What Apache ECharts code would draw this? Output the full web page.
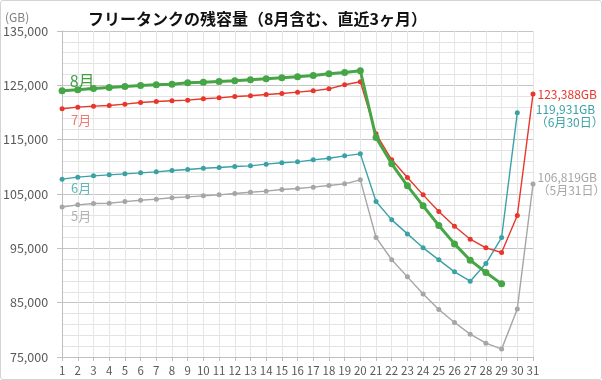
<!DOCTYPE html>
<html><head><meta charset="utf-8">
<script src="https://cdn.jsdelivr.net/npm/echarts@6/dist/echarts.min.js"></script>
<style>
html,body{margin:0;padding:0;background:#fff;}
#wrap{position:relative;width:602px;height:380px;}
#chart{position:absolute;left:0;top:0;width:602px;height:380px;}
#frame{position:absolute;left:0;top:0;width:602px;height:380px;box-sizing:border-box;border:1px solid #d4d4d4;border-radius:3px;pointer-events:none;}
</style></head>
<body><div id="wrap"><div id="chart"></div><div id="frame"></div></div>
<script>
const days = ['1','2','3','4','5','6','7','8','9','10','11','12','13','14','15','16','17','18','19','20','21','22','23','24','25','26','27','28','29','30','31'];
const may = [102600,103000,103250,103300,103600,103850,104050,104300,104480,104660,104840,105090,105330,105520,105830,106010,106260,106560,106870,107600,97000,92900,89750,86600,83750,81350,79200,77550,76450,83850,106819];
const jun = [107730,108100,108340,108520,108710,108890,109080,109320,109510,109750,109880,110060,110180,110490,110740,110920,111290,111590,112020,112390,103620,100240,97660,95090,92880,90670,88950,92200,96990,119931,null];
const jul = [120680,120980,121170,121290,121540,121840,122030,122150,122270,122520,122700,122950,123070,123320,123500,123750,123990,124360,125100,125650,116080,111290,108030,104840,101780,99080,96680,95090,94230,101040,123388];
const aug = [123990,124180,124420,124600,124790,124970,125100,125220,125460,125590,125710,125830,126020,126200,126380,126570,126810,127120,127370,127680,115390,110550,106500,102820,99200,95820,92820,90550,88460,null,null];
const seriesNames = ['5月','6月','7月','8月'];
const titleText = 'フリータンクの残容量（8月含む、直近3ヶ月）';
const unitText = '(GB)';
const endNotes = {
  may: '106,819GB\n（5月31日）',
  jun: '119,931GB\n（6月30日）',
  jul: '123,388GB'
};
const yMin = 75000, yMax = 135000, yStep = 10000;

const FONT = '"Noto Sans CJK JP", "Noto Sans", sans-serif';

function decorate(arr, firstLabel, lastIdx, lastLabel) {
  return arr.map((v, i) => {
    if (i === 0) return {value: v, label: firstLabel};
    if (i === lastIdx && lastLabel) return {value: v, label: lastLabel};
    return v;
  });
}

function mkSeries(name, arr, color, width, sym, firstLbl, lastIdx, lastLbl, z) {
  return {
    name: name, type: 'line', data: decorate(arr, firstLbl, lastIdx, lastLbl),
    symbol: 'circle', symbolSize: sym, showSymbol: true,
    lineStyle: {color: color, width: width},
    itemStyle: {color: color},
    label: {show: false},
    connectNulls: false, z: z, animation: false
  };
}

const chart = echarts.init(document.getElementById('chart'), null, {renderer: 'canvas'});
chart.setOption({
  animation: false,
  backgroundColor: '#fff',
  textStyle: {fontFamily: FONT},
  grid: {left: 58, right: 69, top: 31, bottom: 23, containLabel: false},
  xAxis: {
    type: 'category', data: days, boundaryGap: false,
    axisLine: {lineStyle: {color: '#bfbfbf', width: 1}},
    axisTick: {show: true, length: 4, lineStyle: {color: '#bfbfbf'}},
    axisLabel: {color: '#595959', fontSize: 11.5, margin: 8, fontFamily: FONT, interval: 0},
    splitLine: {show: true, lineStyle: {color: '#e6e6e6', width: 1}}
  },
  yAxis: {
    type: 'value', min: yMin, max: yMax, interval: yStep,
    axisLine: {show: true, lineStyle: {color: '#bfbfbf'}},
    axisTick: {show: true, length: 5, lineStyle: {color: '#bfbfbf'}},
    axisLabel: {color: '#595959', fontSize: 12.5, margin: 14, fontFamily: FONT,
      formatter: v => v.toLocaleString('en-US')},
    splitLine: {show: true, lineStyle: {color: '#c4c4c4', width: 1}},
    minorTick: {show: false, splitNumber: 5},
    minorSplitLine: {show: true, lineStyle: {color: '#e3e3e3', width: 1}}
  },
  graphic: [
    {type: 'text', left: 88, top: 11, style: {text: titleText, font: 'bold 16px ' + FONT, fill: '#111'}},
    {type: 'text', left: 5, top: 11, style: {text: unitText, font: '12px ' + FONT, fill: '#7f7f7f'}}
  ],
  series: [
    mkSeries(seriesNames[0], may, '#a6a6a6', 1.4, 5,
      {show: true, position: 'inside', offset: [19, 9], formatter: seriesNames[0], color: '#b3b3b3', fontSize: 13, fontFamily: FONT},
      30, {show: true, position: 'right', distance: 2, offset: [0, 0], align: 'left', formatter: endNotes.may, color: '#a6a6a6', fontSize: 12, lineHeight: 13, fontFamily: FONT}, 2),
    mkSeries(seriesNames[1], jun, '#3aa2a6', 1.4, 5,
      {show: true, position: 'inside', offset: [19, 9], formatter: seriesNames[1], color: '#5db7ba', fontSize: 13, fontFamily: FONT},
      29, {show: true, position: 'right', distance: 2, offset: [14, 3], align: 'left', formatter: endNotes.jun, color: '#3aa2a6', fontSize: 12, lineHeight: 13, fontFamily: FONT}, 3),
    mkSeries(seriesNames[2], jul, '#e8362b', 1.4, 5,
      {show: true, position: 'inside', offset: [19, 11], formatter: seriesNames[2], color: '#f07a70', fontSize: 13, fontFamily: FONT},
      30, {show: true, position: 'right', distance: 2, offset: [0, 0], align: 'left', formatter: endNotes.jul, color: '#e8362b', fontSize: 12, fontFamily: FONT}, 4),
    mkSeries(seriesNames[3], aug, '#46a646', 3, 7,
      {show: true, position: 'inside', offset: [20, -10], formatter: seriesNames[3], color: '#3f9f3f', fontSize: 16, fontFamily: FONT},
      -1, null, 5)
  ]
});
</script></body></html>
